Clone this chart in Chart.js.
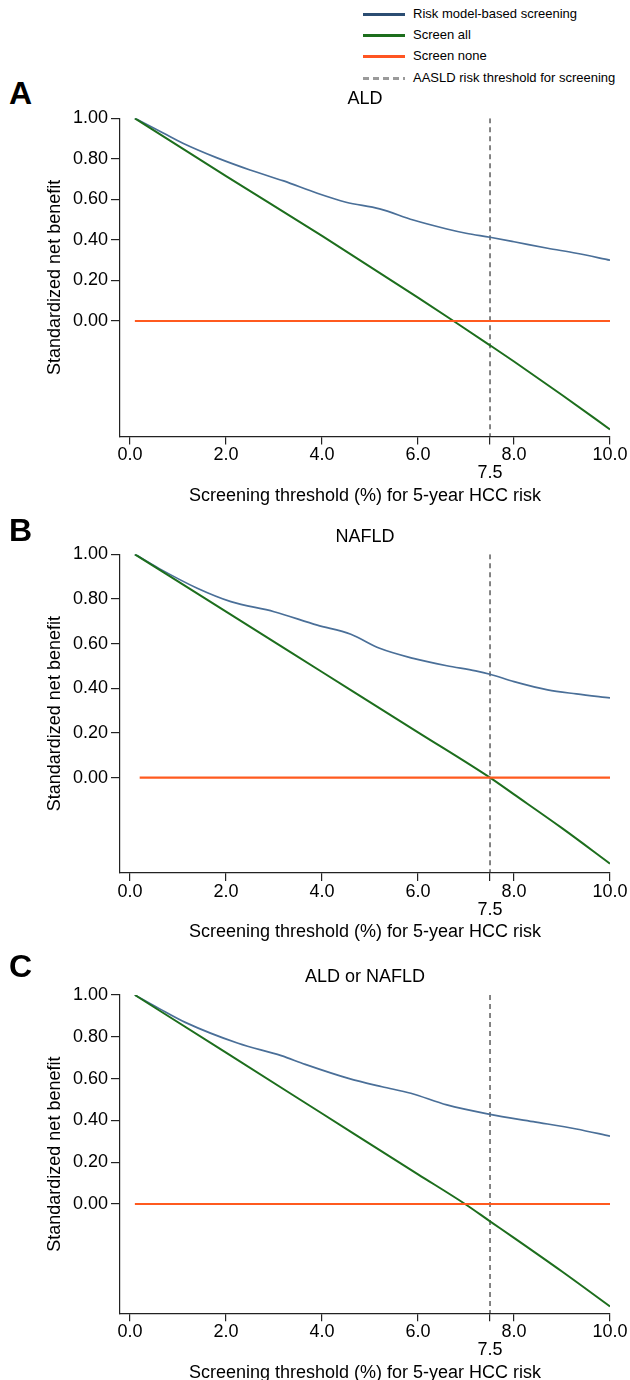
<!DOCTYPE html>
<html>
<head>
<meta charset="utf-8">
<script src="https://cdn.jsdelivr.net/npm/chart.js@4.4.1/dist/chart.umd.min.js"></script>
<style>
html,body{margin:0;padding:0;background:#fff;width:630px;height:1380px;overflow:hidden;}
#root{position:relative;width:630px;height:1380px;font-family:"Liberation Sans",Arial,sans-serif;color:#000;}
canvas{position:absolute;left:0;}
.letter{position:absolute;left:9px;font-weight:bold;font-size:32px;line-height:32px;}
.legline{position:absolute;left:363px;width:42px;height:3px;}
.legtext{position:absolute;left:413px;font-size:13px;line-height:16px;white-space:nowrap;}
</style>
</head>
<body>
<div id="root"></div>
<script>
// ---------- data ----------
const xTicks = [0, 2, 4, 6, 7.5, 8, 10];
const yTicks = [0, 0.2, 0.4, 0.6, 0.8, 1.0];
const threshold = 7.5;
const seriesNames = ['Risk model-based screening', 'Screen all', 'Screen none', 'AASLD risk threshold for screening'];
const panelLetters = ['A', 'B', 'C'];
const panelTitles = ['ALD', 'NAFLD', 'ALD or NAFLD'];
const xAxisTitle = 'Screening threshold (%) for 5-year HCC risk';
const yAxisTitle = 'Standardized net benefit';

// Panel A: ALD
const aldModelX = [0.1, 0.7, 1.1, 1.8, 2.5, 3.2, 3.9, 4.5, 5.2, 5.9, 6.6, 7.0, 7.5, 8.0, 8.7, 9.3, 10.0];
const aldModelY = [1.00, 0.926, 0.877, 0.806, 0.745, 0.691, 0.630, 0.586, 0.553, 0.498, 0.454, 0.433, 0.413, 0.391, 0.359, 0.334, 0.300];
const aldAllX = [0.1, 2.0, 4.0, 6.0, 6.74, 7.5, 8.0, 9.0, 10.0];
const aldAllY = [1.00, 0.715, 0.420, 0.115, 0.0, -0.120, -0.200, -0.365, -0.535];
const aldNoneX = [0.1, 10.0];
const aldNoneY = [0, 0];

// Panel B: NAFLD
const nafldModelX = [0.1, 0.6, 1.4, 2.1, 3.0, 3.9, 4.6, 5.2, 5.9, 6.6, 7.2, 7.5, 8.0, 8.7, 9.3, 10.0];
const nafldModelY = [1.00, 0.937, 0.848, 0.788, 0.743, 0.683, 0.642, 0.579, 0.534, 0.501, 0.478, 0.463, 0.430, 0.393, 0.375, 0.357];
const nafldAllX = [0.1, 2.0, 4.0, 6.0, 7.5, 8.0, 9.0, 10.0];
const nafldAllY = [1.00, 0.743, 0.473, 0.203, 0.0, -0.075, -0.226, -0.385];
const nafldNoneX = [0.2, 10.0];
const nafldNoneY = [0, 0];

// Panel C: ALD or NAFLD
const bothModelX = [0.1, 0.6, 1.15, 2.25, 3.15, 3.65, 4.55, 5.25, 5.85, 6.6, 7.5, 8.4, 9.3, 10.0];
const bothModelY = [1.00, 0.936, 0.869, 0.769, 0.710, 0.668, 0.601, 0.561, 0.530, 0.474, 0.429, 0.394, 0.359, 0.325];
const bothAllX = [0.1, 2.0, 4.0, 6.0, 6.98, 7.5, 8.0, 9.0, 10.0];
const bothAllY = [1.00, 0.724, 0.433, 0.142, 0.0, -0.083, -0.162, -0.323, -0.490];
const bothNoneX = [0.1, 10.0];
const bothNoneY = [0, 0];

// ---------- layout (page px) ----------
const FONT = '"Liberation Sans", Arial, sans-serif';
const COLORS = {model:'#4a6f98', all:'#1d6e1d', none:'#ff5a1f', thr:'#333333', axis:'#222222'};
const LEGEND_COLORS = ['#2b4d72', '#1d6e1d', '#ff5522', null];

const panels = [
  {modelX:aldModelX, modelY:aldModelY, allX:aldAllX, allY:aldAllY, noneX:aldNoneX, noneY:aldNoneY,
   areaTop:118.3, areaBottom:436.5, yMin:-0.57, titleY:99, letterY:93},
  {modelX:nafldModelX, modelY:nafldModelY, allX:nafldAllX, allY:nafldAllY, noneX:nafldNoneX, noneY:nafldNoneY,
   areaTop:554.3, areaBottom:873, yMin:-0.427, titleY:537, letterY:530},
  {modelX:bothModelX, modelY:bothModelY, allX:bothAllX, allY:bothAllY, noneX:bothNoneX, noneY:bothNoneY,
   areaTop:995, areaBottom:1313.3, yMin:-0.523, titleY:977, letterY:966}
];

const root = document.getElementById('root');
const zip = (xs, ys) => xs.map((x, i) => ({x: x, y: ys[i]}));

// legend (HTML)
const legRows = [14, 35.3, 56.6, 78];
seriesNames.forEach((name, i) => {
  const ln = document.createElement('div');
  ln.className = 'legline';
  ln.style.top = (legRows[i] - 1.5) + 'px';
  if (LEGEND_COLORS[i]) ln.style.background = LEGEND_COLORS[i];
  else ln.style.background = 'repeating-linear-gradient(to right, #9a9a9a 0 6px, transparent 6px 10px)';
  root.appendChild(ln);
  const t = document.createElement('div');
  t.className = 'legtext';
  t.style.top = (legRows[i] - 8.5) + 'px';
  t.textContent = name;
  root.appendChild(t);
});

const TITLE_BOX = 60, XSCALE_H = 84, LH_T = 18 * 1.2;

panels.forEach((p, idx) => {
  const letter = document.createElement('div');
  letter.className = 'letter';
  letter.style.top = (p.letterY - 16) + 'px';
  letter.textContent = panelLetters[idx];
  root.appendChild(letter);

  const canvasTop = Math.floor(p.areaTop - TITLE_BOX);
  const titleBox = p.areaTop - canvasTop;
  const canvasH = Math.ceil(p.areaBottom + XSCALE_H - canvasTop);
  const padBottom = canvasH - (p.areaBottom + XSCALE_H - canvasTop);
  const tPadTop = (p.titleY - canvasTop) - LH_T / 2;
  const tPadBottom = titleBox - LH_T - tPadTop;

  const cv = document.createElement('canvas');
  cv.width = 630; cv.height = canvasH;
  cv.style.top = canvasTop + 'px';
  cv.style.width = '630px'; cv.style.height = canvasH + 'px';
  root.appendChild(cv);

  new Chart(cv.getContext('2d'), {
    type: 'line',
    data: {
      datasets: [
        {label: seriesNames[2], data: zip(p.noneX, p.noneY), borderColor: COLORS.none, borderWidth: 2.2, pointRadius: 0, fill: false},
        {label: seriesNames[1], data: zip(p.allX, p.allY), borderColor: COLORS.all, borderWidth: 2, pointRadius: 0, fill: false, cubicInterpolationMode: 'monotone'},
        {label: seriesNames[0], data: zip(p.modelX, p.modelY), borderColor: COLORS.model, borderWidth: 1.7, pointRadius: 0, fill: false, cubicInterpolationMode: 'monotone'},
        {label: seriesNames[3], data: [{x: threshold, y: 1}, {x: threshold, y: p.yMin}], borderColor: COLORS.thr, borderWidth: 1.2, borderDash: [5, 4], pointRadius: 0, fill: false}
      ]
    },
    options: {
      responsive: false, animation: false, devicePixelRatio: 1,
      layout: {padding: {left: 0, right: 20, top: 0, bottom: padBottom}},
      plugins: {
        legend: {display: false}, tooltip: {enabled: false},
        title: {display: true, fullSize: false, text: panelTitles[idx], color: '#000',
          font: {family: FONT, size: 18, weight: 'normal', lineHeight: 1.2},
          padding: {top: tPadTop, bottom: tPadBottom}}
      },
      scales: {
        x: {
          type: 'linear', min: -0.21, max: 10,
          afterBuildTicks: s => { s.ticks = xTicks.map(v => ({value: v})); },
          afterFit: s => { s.height = XSCALE_H; },
          ticks: {autoSkip: false, maxRotation: 0, minRotation: 0, padding: 2, color: '#000',
            font: {family: FONT, size: 18, lineHeight: 1},
            callback: v => v === threshold ? ['', v.toFixed(1)] : v.toFixed(1)},
          grid: {drawOnChartArea: false, drawTicks: true, tickLength: 8, color: COLORS.axis, lineWidth: 1.2},
          border: {display: true, color: COLORS.axis, width: 1.2},
          title: {display: true, text: xAxisTitle, color: '#000', font: {family: FONT, size: 18, lineHeight: 1.2},
            padding: {top: 0, bottom: 13.7}}
        },
        y: {
          type: 'linear', min: p.yMin, max: 1,
          afterBuildTicks: s => { s.ticks = yTicks.map(v => ({value: v})); },
          afterFit: s => { s.width = 120; },
          ticks: {padding: 3, color: '#000', font: {family: FONT, size: 18, lineHeight: 1.2},
            callback: v => v.toFixed(2)},
          grid: {drawOnChartArea: false, drawTicks: true, tickLength: 9, color: COLORS.axis, lineWidth: 1.2},
          border: {display: true, color: COLORS.axis, width: 1.2},
          title: {display: true, text: yAxisTitle, color: '#000', font: {family: FONT, size: 18, lineHeight: 1.2},
            padding: {top: 44.2, bottom: 0}}
        }
      }
    }
  });
});
</script>
</body>
</html>
